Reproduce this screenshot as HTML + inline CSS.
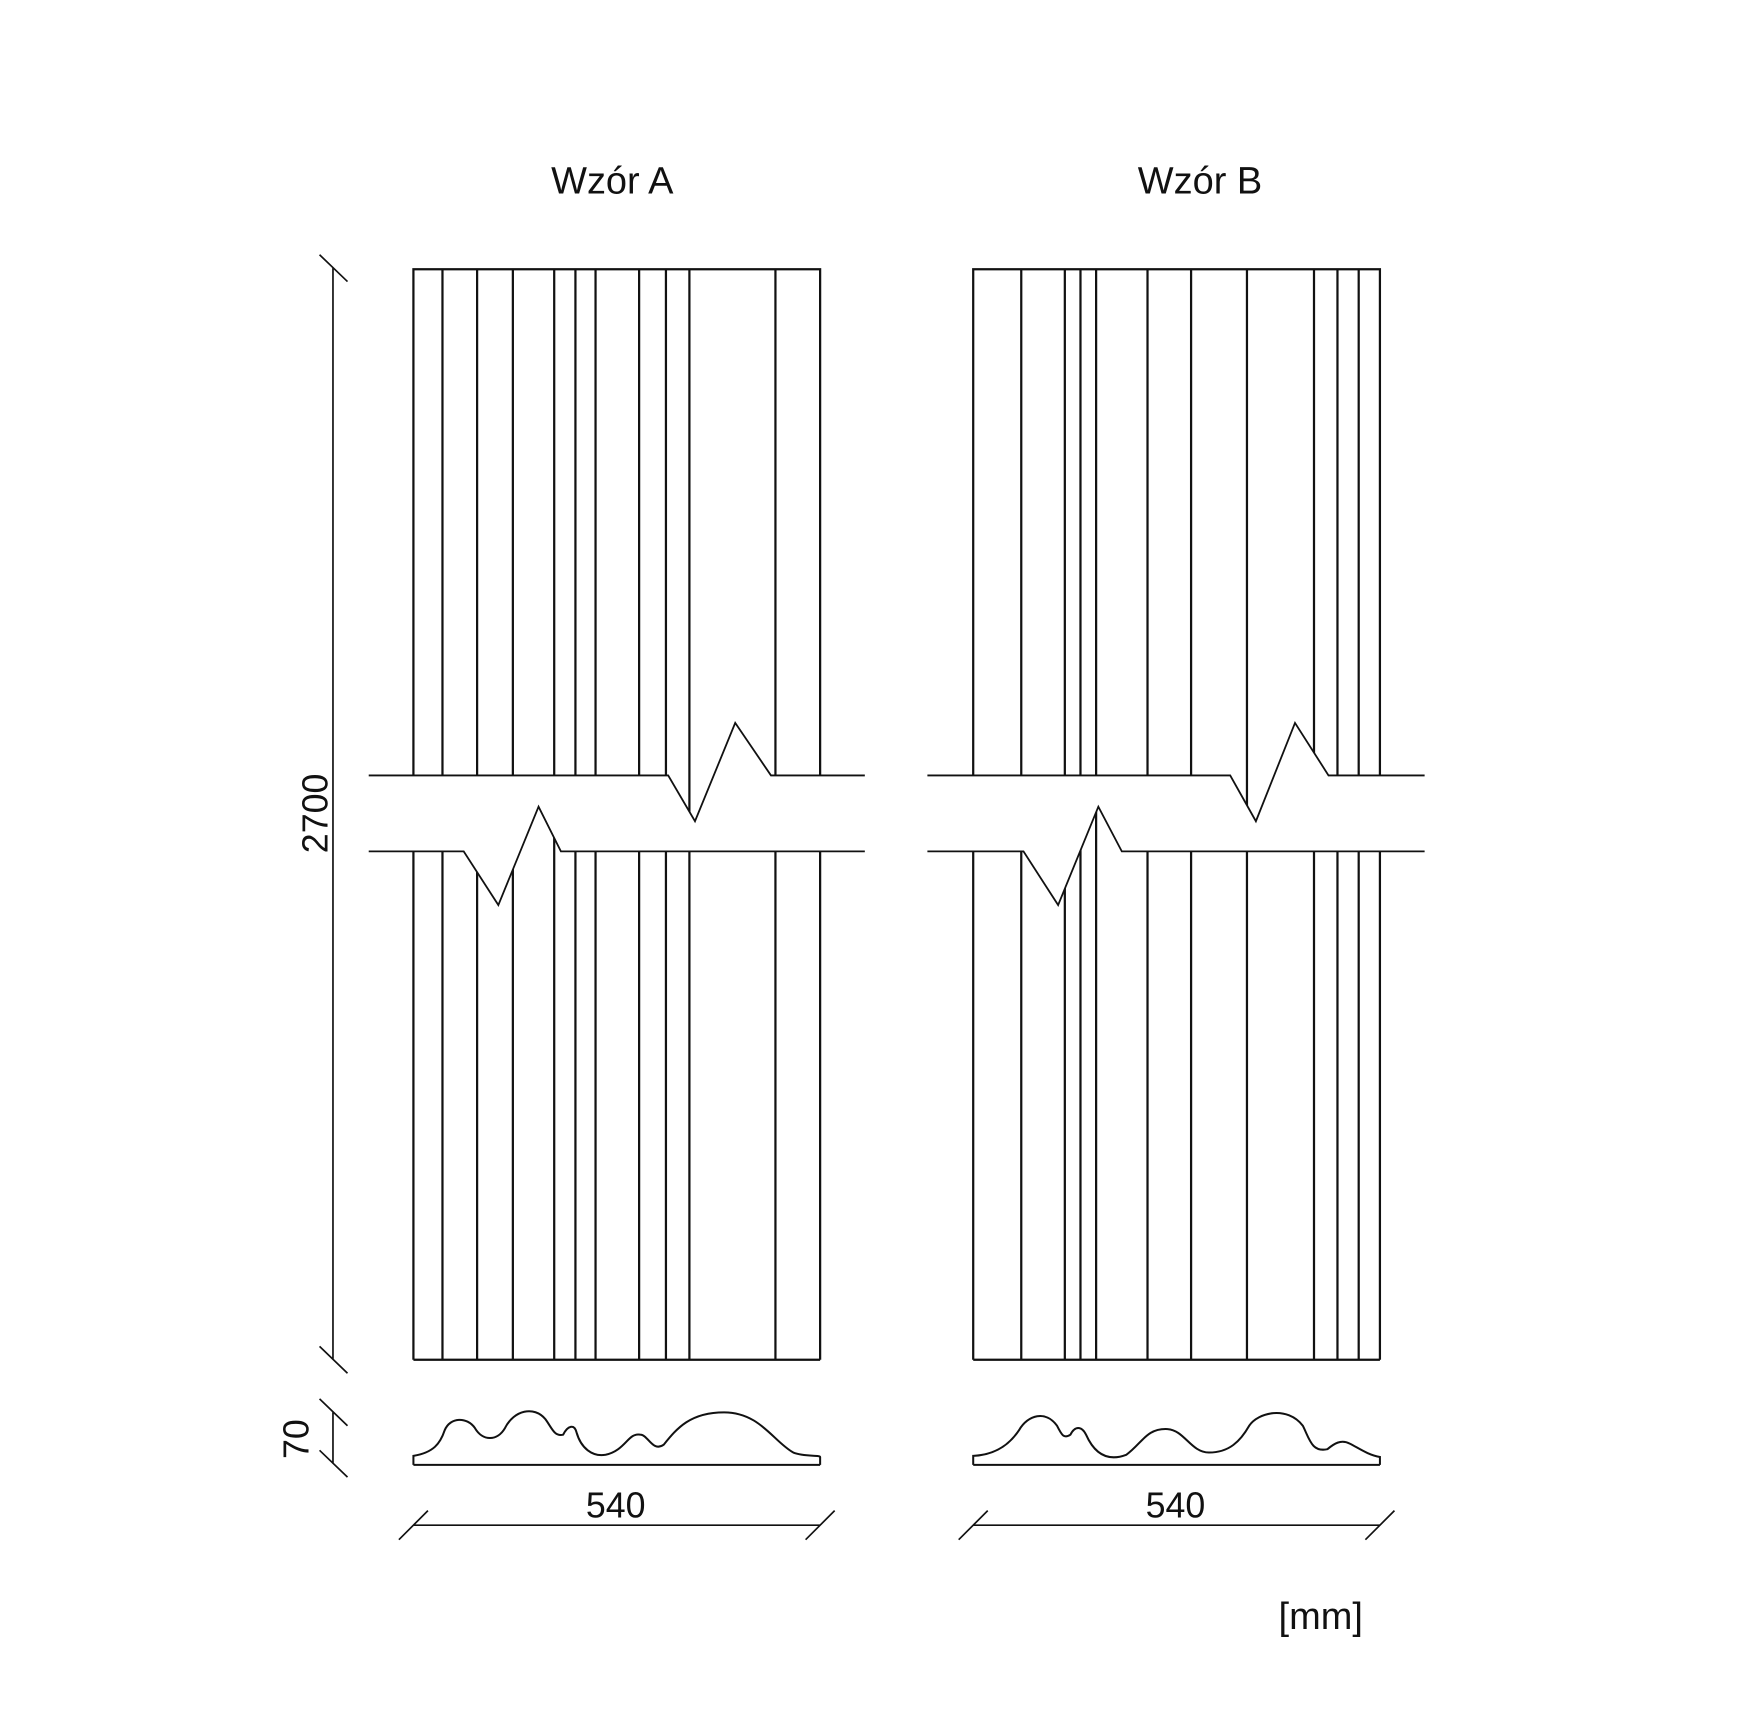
<!DOCTYPE html>
<html><head><meta charset="utf-8"><style>
html,body{margin:0;padding:0;background:#fff;}
svg{display:block;}
text{font-family:"Liberation Sans",sans-serif;fill:#111;}
</style></head><body>
<svg width="1752" height="1714" viewBox="0 0 1568 1534" preserveAspectRatio="none" xmlns="http://www.w3.org/2000/svg">
<defs>
<clipPath id="aU"><polygon points="360,230 744,230 744,694 690,694 658,647 622,735 598,694 360,694"/></clipPath>
<clipPath id="aL"><polygon points="360,762 415,762 446,810 482,722 502,762 744,762 744,1230 360,1230"/></clipPath>
<clipPath id="bU"><polygon points="860,230 1245,230 1245,694 1189,694 1159,647 1124,735 1101,694 860,694"/></clipPath>
<clipPath id="bL"><polygon points="860,762 916,762 947,810 983,722 1004,762 1245,762 1245,1230 860,1230"/></clipPath>
</defs>
<g stroke="#111" stroke-width="2" fill="none">
<!-- Panel A -->
<g clip-path="url(#aU)">
<path d="M370 241 H734 M370 240 V760 M734 240 V760 M396 240V760 M427 240V760 M459 240V760 M496 240V760 M515 240V760 M533 240V760 M572 240V760 M596 240V760 M617 240V760 M694 240V760"/>
</g>
<g clip-path="url(#aL)">
<path d="M370 1217 H734 M370 700 V1217 M734 700 V1217 M396 700V1217 M427 700V1217 M459 700V1217 M496 700V1217 M515 700V1217 M533 700V1217 M572 700V1217 M596 700V1217 M617 700V1217 M694 700V1217"/>
</g>
<polyline stroke-width="1.6" points="330,694 598,694 622,735 658,647 690,694 774,694"/>
<polyline stroke-width="1.6" points="330,762 415,762 446,810 482,722 502,762 774,762"/>
<!-- Panel B -->
<g clip-path="url(#bU)">
<path d="M871 241 H1235 M871 240 V760 M1235 240 V760 M914 240V760 M953 240V760 M967 240V760 M981 240V760 M1027 240V760 M1066 240V760 M1116 240V760 M1176 240V760 M1197 240V760 M1216 240V760"/>
</g>
<g clip-path="url(#bL)">
<path d="M871 1217 H1235 M871 700 V1217 M1235 700 V1217 M914 700V1217 M953 700V1217 M967 700V1217 M981 700V1217 M1027 700V1217 M1066 700V1217 M1116 700V1217 M1176 700V1217 M1197 700V1217 M1216 700V1217"/>
</g>
<polyline stroke-width="1.6" points="830,694 1101,694 1124,735 1159,647 1189,694 1275,694"/>
<polyline stroke-width="1.6" points="830,762 916,762 947,810 983,722 1004,762 1275,762"/>
<!-- vertical dimension -->
<g stroke-width="1.5">
<path d="M298 240 V1217 M286 228 L311 252 M286 1205 L311 1229"/>
<path d="M298 1264 V1310 M286 1252 L311 1276 M286 1298 L311 1322"/>
<path d="M370 1365 H734 M357 1378 L383 1352 M721 1378 L747 1352"/>
<path d="M871 1365 H1235 M858 1378 L884 1352 M1222 1378 L1248 1352"/>
</g>
<!-- profiles -->
<path stroke-width="1.8" d="M370 1311 H734 M370 1311 V1303 C388 1300 394 1292 398 1280 C403 1268 418 1268 425 1278 C432 1290 445 1290 452 1278 C460 1262 478 1258 488 1270 C494 1278 496 1286 504 1284 C508 1276 514 1274 516 1282 C520 1296 530 1304 542 1302 C560 1298 562 1282 573 1284 C580 1284 584 1300 594 1293 C606 1278 618 1264 648 1264 C680 1264 692 1290 710 1300 C720 1304 734 1302 734 1304 V1311"/>
<path stroke-width="1.8" d="M871 1311 H1235 M871 1311 V1303 C892 1302 904 1292 912 1280 C920 1266 936 1262 946 1276 C950 1284 952 1288 958 1284 C962 1276 968 1276 972 1284 C980 1302 992 1308 1008 1302 C1022 1292 1026 1278 1045 1279 C1060 1280 1066 1300 1082 1300 C1100 1300 1110 1290 1118 1276 C1126 1264 1152 1258 1166 1276 C1172 1288 1174 1300 1188 1297 C1194 1292 1200 1288 1208 1292 C1216 1296 1224 1302 1235 1304 V1311"/>
</g>
<text x="548" y="173" font-size="34" text-anchor="middle">Wzór A</text>
<text x="1074" y="173" font-size="34" text-anchor="middle">Wzór B</text>
<text x="551" y="1358" font-size="32" text-anchor="middle">540</text>
<text x="1052" y="1358" font-size="32" text-anchor="middle">540</text>
<text x="1182" y="1458" font-size="34" text-anchor="middle">[mm]</text>
<text transform="translate(293,728) rotate(-90)" font-size="32" text-anchor="middle">2700</text>
<text transform="translate(276,1288) rotate(-90)" font-size="32" text-anchor="middle">70</text>
</svg>
</body></html>
